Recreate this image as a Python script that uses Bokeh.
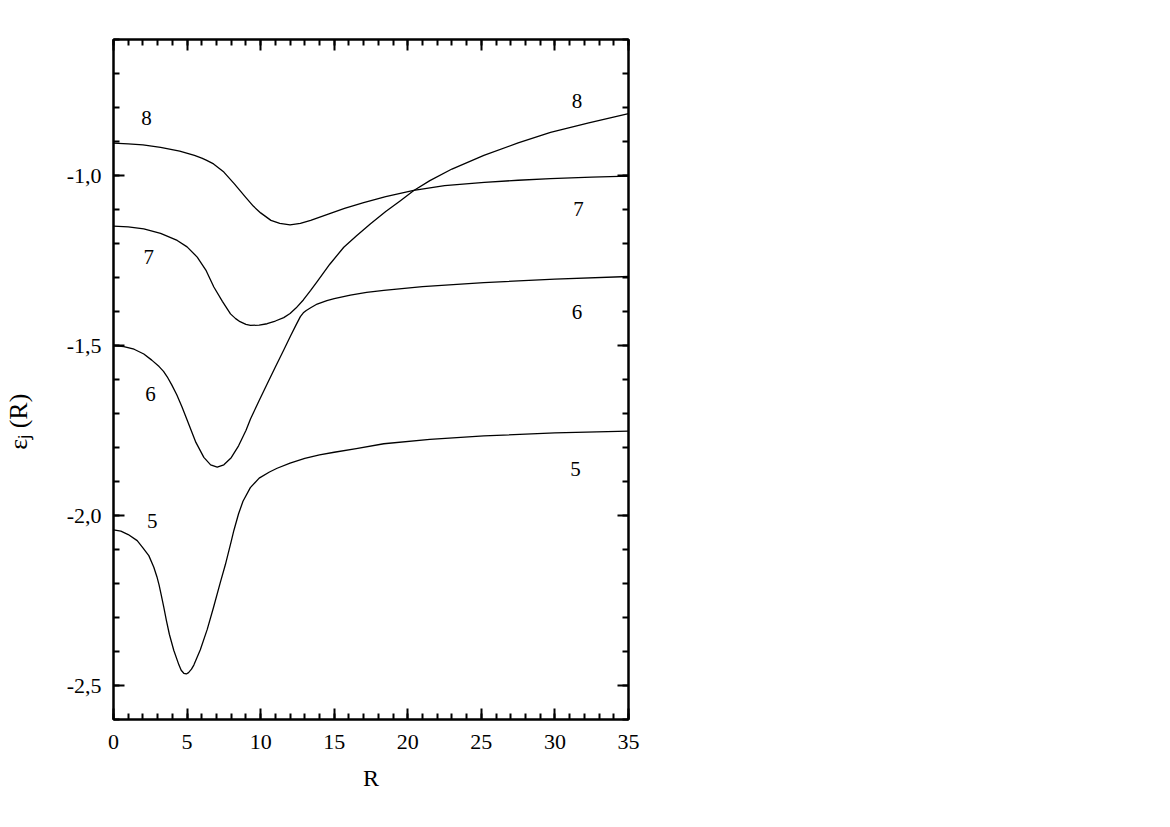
from bokeh.plotting import figure
from bokeh.models import LinearAxis, SingleIntervalTicker, CustomJSTickFormatter, Range1d, ColumnDataSource
from bokeh.embed import file_html
from bokeh.resources import INLINE
from bokeh.core.properties import value

# ---- data ----
# curve starting at -0.90 (label 8 on the left)
R_a = [0, 1, 2, 3.2, 4.5, 5.5, 6.0, 6.3, 6.8, 7.5, 8.2, 9.0, 9.5, 10.0, 10.7, 11.3, 12.0, 12.7, 13.4,
       14.5, 15.7, 17.0, 18.5, 20.4, 22.5, 25.2, 27.5, 29.7, 32.5, 35]
E_a = [-0.905, -0.907, -0.91, -0.917, -0.928, -0.941, -0.949, -0.955, -0.966, -0.99, -1.024, -1.065,
       -1.09, -1.11, -1.132, -1.141, -1.145, -1.141, -1.132, -1.115, -1.097, -1.08, -1.062, -1.044,
       -1.03, -1.02, -1.014, -1.009, -1.005, -1.002]

# curve starting at -1.15 (label 7 on the left)
R_b = [0, 1, 2.06, 3.2, 4.33, 5.0, 5.69, 6.3, 6.82, 7.4, 7.95, 8.3, 8.6, 9.0, 9.31, 9.9, 10.44, 11.0,
       11.57, 12.0, 12.4, 12.9, 13.4, 13.84, 14.7, 15.65, 16.5, 17.47, 18.5, 19.5, 20.41, 21.5, 23,
       25.17, 27.5, 29.7, 32.3, 35]
E_b = [-1.149, -1.151, -1.157, -1.17, -1.191, -1.21, -1.24, -1.28, -1.328, -1.37, -1.407, -1.421,
       -1.43, -1.438, -1.441, -1.44, -1.436, -1.428, -1.418, -1.406, -1.39, -1.366, -1.338, -1.312,
       -1.261, -1.211, -1.178, -1.142, -1.106, -1.074, -1.044, -1.015, -0.981, -0.941, -0.904,
       -0.873, -0.845, -0.818]

# curve starting at -1.50 (label 6)
R_c = [0, 0.7, 1.4, 2.06, 2.6, 3.1, 3.4, 3.65, 3.95, 4.3, 4.65, 5.01, 5.6, 6.14, 6.6, 7.05, 7.5, 8.0,
       8.5, 9.0, 9.31, 9.9, 10.44, 11.0, 11.57, 12.03, 12.4, 12.7, 12.9, 13.1, 13.4, 13.84, 14.5, 15.0,
       16.1, 17.2, 18.37, 21, 25.17, 30, 35]
E_c = [-1.5, -1.503, -1.511, -1.525, -1.543, -1.562, -1.576, -1.592, -1.615, -1.645, -1.68, -1.72,
       -1.785, -1.829, -1.851, -1.858, -1.851, -1.83, -1.795, -1.75, -1.716, -1.662, -1.613, -1.563,
       -1.513, -1.472, -1.44, -1.415, -1.404, -1.397, -1.389, -1.378, -1.368, -1.362, -1.352, -1.344,
       -1.338, -1.327, -1.315, -1.305, -1.297]

# curve starting at -2.04 (label 5)
R_d = [0, 0.5, 1.0, 1.61, 2.0, 2.4, 2.74, 2.95, 3.1, 3.25, 3.42, 3.6, 3.8, 4.1, 4.45, 4.6, 4.78, 4.95,
       5.1, 5.3, 5.46, 5.9, 6.37, 6.8, 7.27, 7.6, 8.0, 8.18, 8.5, 8.8, 9.3, 9.9, 10.6, 11.12, 12.0,
       13.0, 14.0, 15.0, 16.5, 18.37, 21.5, 25.17, 30, 35]
E_d = [-2.042, -2.046, -2.056, -2.074, -2.095, -2.118, -2.152, -2.18, -2.205, -2.235, -2.27, -2.31,
       -2.35, -2.397, -2.44, -2.455, -2.464, -2.466, -2.462, -2.452, -2.44, -2.395, -2.335, -2.27,
       -2.195, -2.145, -2.076, -2.044, -1.995, -1.958, -1.918, -1.89, -1.872, -1.861, -1.846, -1.832,
       -1.822, -1.814, -1.803, -1.789, -1.776, -1.766, -1.757, -1.752]

lab_text = ["8", "7", "6", "5", "8", "7", "6", "5"]
lab_R = [2.24, 2.4, 2.51, 2.63, 31.5, 31.6, 31.5, 31.4]
lab_E = [-0.832, -1.24, -1.642, -2.017, -0.782, -1.098, -1.402, -1.863]

x_ticks_interval = 5
y_ticks_interval = 0.5
x_title = "R"
y_title = "\u03b5\u2c7c (R)" + "\u00a0" * 13

FONT = "Liberation Serif"

p = figure(width=1150, height=808, x_range=Range1d(0, 35), y_range=Range1d(-2.6, -0.6),
           output_backend="svg", toolbar_location=None,
           x_axis_location=None, y_axis_location=None)
p.min_border_left = 113
p.min_border_top = 39
p.min_border_right = 522
p.min_border_bottom = 89
p.xgrid.grid_line_color = None
p.ygrid.grid_line_color = None
p.outline_line_color = "black"
p.outline_line_width = 2
p.background_fill_color = "white"
p.border_fill_color = "white"

xt = SingleIntervalTicker(interval=x_ticks_interval, num_minor_ticks=5)
yt = SingleIntervalTicker(interval=y_ticks_interval, num_minor_ticks=5)


def style(ax, show):
    ax.axis_line_width = 2
    ax.axis_line_color = "black"
    ax.major_tick_in = 11
    ax.major_tick_out = 0
    ax.minor_tick_in = 6
    ax.minor_tick_out = 0
    ax.major_tick_line_width = 2
    ax.minor_tick_line_width = 2
    ax.major_label_text_font = FONT
    ax.major_label_text_font_size = "22px"
    ax.major_label_text_color = "black"
    ax.major_label_standoff = 15
    ax.axis_label_text_font = FONT
    ax.axis_label_text_font_style = "normal"
    ax.axis_label_text_color = "black"
    if not show:
        ax.formatter = CustomJSTickFormatter(code="return '';")


bx = LinearAxis(ticker=xt, axis_label=x_title)
style(bx, True)
bx.axis_label_text_font_size = "24px"
bx.axis_label_standoff = 13
p.add_layout(bx, "below")
tx = LinearAxis(ticker=xt)
style(tx, False)
p.add_layout(tx, "above")
ly = LinearAxis(ticker=yt, axis_label=y_title,
                formatter=CustomJSTickFormatter(code="return tick.toFixed(1).replace('.', ',');"))
style(ly, True)
ly.major_label_standoff = 12
ly.axis_label_text_font_size = "26px"
ly.axis_label_standoff = 31
p.add_layout(ly, "left")
ry = LinearAxis(ticker=yt)
style(ry, False)
p.add_layout(ry, "right")

for rr, ee in [(R_a, E_a), (R_b, E_b), (R_c, E_c), (R_d, E_d)]:
    p.line(rr, ee, line_color="black", line_width=1.3, line_join="round")

src = ColumnDataSource(dict(x=lab_R, y=lab_E, t=lab_text))
p.text(x="x", y="y", text="t", source=src, text_font=value(FONT), text_font_size="21px",
       text_align="center", text_baseline="middle", text_color="black")

open("out.html", "w").write(file_html(p, INLINE))
